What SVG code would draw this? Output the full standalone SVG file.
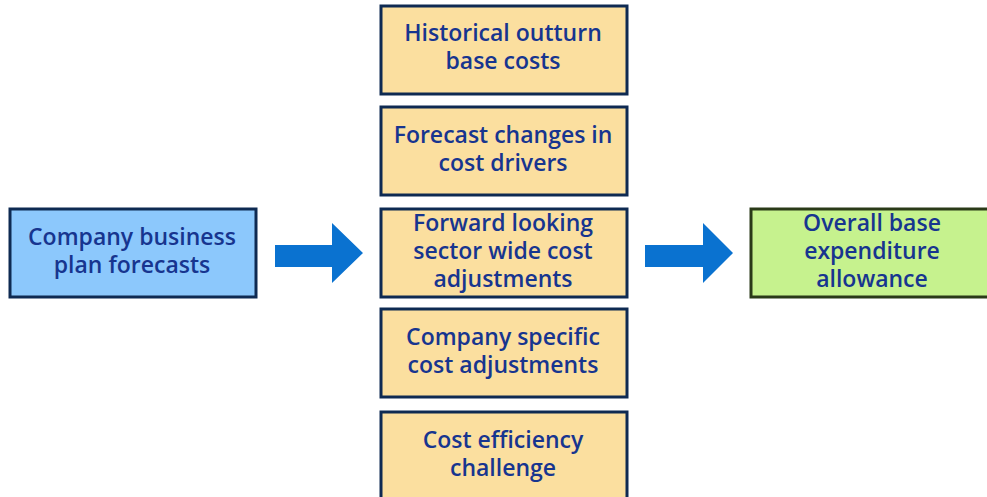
<svg xmlns="http://www.w3.org/2000/svg" width="987" height="497" viewBox="0 0 987 497">
  <style>
    .box { stroke-width: 3; }
    .src { fill: #8cc8fc; stroke: #0e2a52; }
    .step { fill: #fbdf9f; stroke: #0e2a52; }
    .out { fill: #c6f28e; stroke: #2a3a18; }
    .lbl { font-family: "Open Sans", "Liberation Sans", sans-serif; font-weight: 600; font-size: 23px; fill: #17358f; text-anchor: middle; }
    .arrow { fill: #0a72d0; }
  </style>
  <rect width="987" height="497" fill="#ffffff"/>

  <g id="company-plan">
    <rect class="box src" x="10" y="209" width="246" height="88"/>
    <text class="lbl" x="132" y="245">Company business</text>
    <text class="lbl" x="132" y="273">plan forecasts</text>
  </g>

  <g id="historical">
    <rect class="box step" x="381" y="6" width="246" height="88"/>
    <text class="lbl" x="503" y="41">Historical outturn</text>
    <text class="lbl" x="503" y="69">base costs</text>
  </g>

  <g id="forecast-drivers">
    <rect class="box step" x="381" y="107" width="246" height="88"/>
    <text class="lbl" x="503" y="143">Forecast changes in</text>
    <text class="lbl" x="503" y="171">cost drivers</text>
  </g>

  <g id="sector-adjustments">
    <rect class="box step" x="381" y="209" width="246" height="88"/>
    <text class="lbl" x="503" y="231">Forward looking</text>
    <text class="lbl" x="503" y="259">sector wide cost</text>
    <text class="lbl" x="503" y="287">adjustments</text>
  </g>

  <g id="company-adjustments">
    <rect class="box step" x="381" y="309" width="246" height="88"/>
    <text class="lbl" x="503" y="345">Company specific</text>
    <text class="lbl" x="503" y="373">cost adjustments</text>
  </g>

  <g id="efficiency">
    <rect class="box step" x="381" y="412" width="246" height="90"/>
    <text class="lbl" x="503" y="448">Cost efficiency</text>
    <text class="lbl" x="503" y="476">challenge</text>
  </g>

  <g id="allowance">
    <rect class="box out" x="751" y="209" width="240" height="88"/>
    <text class="lbl" x="872" y="231">Overall base</text>
    <text class="lbl" x="872" y="259">expenditure</text>
    <text class="lbl" x="872" y="287">allowance</text>
  </g>

  <g id="connectors">
    <polygon class="arrow" points="275,245 332,245 332,223 363,253 332,283 332,267 275,267"/>
    <polygon class="arrow" points="645,245 703,245 703,223 733,253 703,283 703,267 645,267"/>
  </g>
</svg>
